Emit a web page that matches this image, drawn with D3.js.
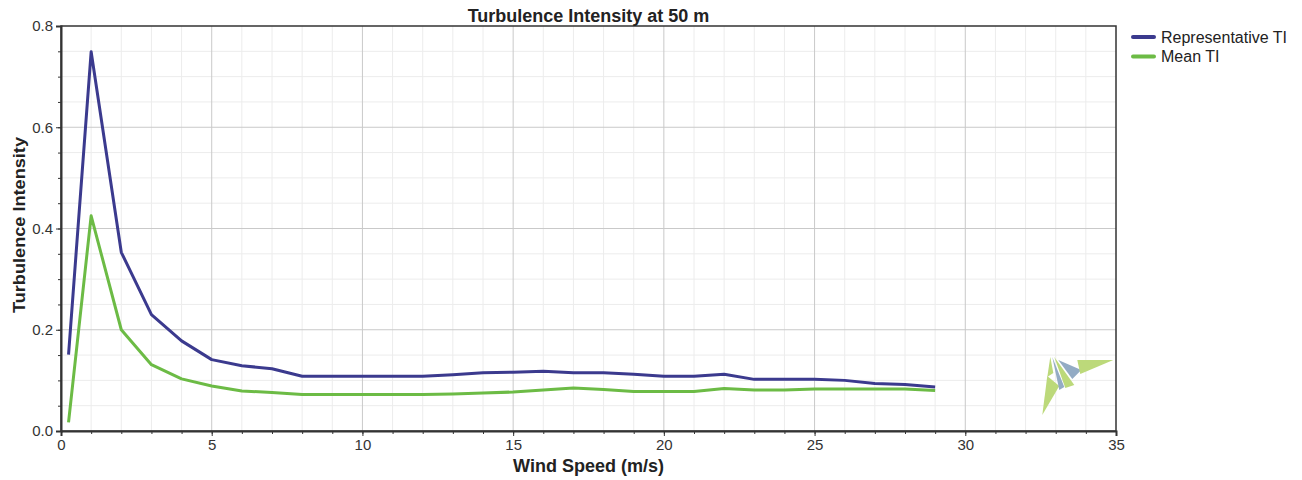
<!DOCTYPE html>
<html>
<head>
<meta charset="utf-8">
<script src="https://cdn.jsdelivr.net/npm/d3@7"></script>
<style>
  body { margin: 0; background: #fff; }
  text { font-family: "Liberation Sans", Arial, sans-serif; }
</style>
</head>
<body>
<div id="chart"></div>
<script>
// wind speed bins (m/s)
const windSpeed = [0.25, 1, 2, 3, 4, 5, 6, 7, 8, 9, 10, 11, 12, 13, 14, 15, 16, 17, 18, 19, 20, 21, 22, 23, 24, 25, 26, 27, 28, 29];
// representative TI
const repTI = [0.151, 0.749, 0.353, 0.230, 0.178, 0.141, 0.129, 0.123, 0.108, 0.108, 0.108, 0.108, 0.108, 0.111, 0.115, 0.116, 0.118, 0.115, 0.115, 0.112, 0.108, 0.108, 0.112, 0.102, 0.102, 0.102, 0.100, 0.094, 0.092, 0.087];
// mean TI
const meanTI = [0.017, 0.425, 0.200, 0.131, 0.103, 0.089, 0.079, 0.076, 0.072, 0.072, 0.072, 0.072, 0.072, 0.073, 0.075, 0.077, 0.081, 0.085, 0.082, 0.078, 0.078, 0.078, 0.084, 0.081, 0.081, 0.083, 0.083, 0.083, 0.083, 0.080];

const seriesNames = ["Representative TI", "Mean TI"];
const seriesColors = ["#3b3a8e", "#6cbb45"];
const xTicks = [0, 5, 10, 15, 20, 25, 30, 35];
const yTicks = [0.0, 0.2, 0.4, 0.6, 0.8];

function TIChart(parentElement) {
    let vis = this;
    vis.parentElement = parentElement;
    vis.initVis();
}

TIChart.prototype.initVis = function() {
    let vis = this;

    vis.margin = {top: 26, right: 186, bottom: 49, left: 61};
    vis.width = 1302 - vis.margin.left - vis.margin.right;
    vis.height = 480 - vis.margin.top - vis.margin.bottom;

    vis.root = d3.select("#" + vis.parentElement).append("svg")
        .attr("width", 1302)
        .attr("height", 480);

    vis.svg = vis.root.append("g")
        .attr("transform", "translate(" + vis.margin.left + ", " + vis.margin.top + ")");

    vis.x = d3.scaleLinear().domain([0, 35]).range([0, vis.width]);
    vis.y = d3.scaleLinear().domain([0, 0.8]).range([vis.height, 0]);

    // minor grid
    vis.svg.append("g").selectAll("line")
        .data(d3.range(1, 35).filter(d => d % 5 !== 0))
        .join("line")
        .attr("x1", d => vis.x(d)).attr("x2", d => vis.x(d))
        .attr("y1", 0).attr("y2", vis.height)
        .attr("stroke", "#ececec");
    vis.svg.append("g").selectAll("line")
        .data(d3.range(1, 16).map(d => d * 0.05).filter((d, i) => (i + 1) % 4 !== 0))
        .join("line")
        .attr("y1", d => vis.y(d)).attr("y2", d => vis.y(d))
        .attr("x1", 0).attr("x2", vis.width)
        .attr("stroke", "#ececec");

    // major grid
    vis.svg.append("g").selectAll("line")
        .data(xTicks.slice(1, -1))
        .join("line")
        .attr("x1", d => vis.x(d)).attr("x2", d => vis.x(d))
        .attr("y1", 0).attr("y2", vis.height)
        .attr("stroke", "#c9c9c9");
    vis.svg.append("g").selectAll("line")
        .data(yTicks.slice(1, -1))
        .join("line")
        .attr("y1", d => vis.y(d)).attr("y2", d => vis.y(d))
        .attr("x1", 0).attr("x2", vis.width)
        .attr("stroke", "#c9c9c9");

    // logo (decoration in the corner of the plot)
    let logo = vis.svg.append("g")
        .attr("transform", "translate(" + (vis.x(32.82)) + "," + (vis.y(0.146)) + ")");
    let green = "#bcd97a", grey = "#93abc4";
    logo.append("polygon").attr("points", "0,0 3,16 -3,20").attr("fill", green);
    logo.append("polygon").attr("points", "-3,19 9,29 -8,58").attr("fill", green);
    logo.append("polygon").attr("points", "2,0 14,30 9,33").attr("fill", grey);
    logo.append("polygon").attr("points", "4,0 24,28 15,31").attr("fill", green);
    logo.append("polygon").attr("points", "8,3 31,13 22,22").attr("fill", grey);
    logo.append("polygon").attr("points", "27,3 63,3 30,17").attr("fill", green);

    // frame
    vis.svg.append("rect")
        .attr("width", vis.width).attr("height", vis.height)
        .attr("fill", "none").attr("stroke", "#333").attr("stroke-width", 1.5);

    // axes
    vis.xAxis = vis.svg.append("g")
        .attr("transform", "translate(0," + vis.height + ")")
        .call(d3.axisBottom(vis.x).tickValues(xTicks).tickFormat(d3.format("d")).tickSize(5).tickPadding(3));
    vis.svg.append("g")
        .attr("transform", "translate(0," + vis.height + ")")
        .call(d3.axisBottom(vis.x).tickValues(d3.range(0, 36)).tickFormat("").tickSize(3))
        .call(g => g.select(".domain").remove());
    vis.yAxis = vis.svg.append("g")
        .call(d3.axisLeft(vis.y).tickValues(yTicks).tickFormat(d3.format(".1f")).tickSize(5).tickPadding(3));
    vis.svg.append("g")
        .call(d3.axisLeft(vis.y).tickValues(d3.range(0, 17).map(d => d * 0.05)).tickFormat("").tickSize(3))
        .call(g => g.select(".domain").remove());

    vis.svg.selectAll(".domain").attr("stroke", "#333").attr("stroke-width", 2);
    vis.svg.selectAll(".tick line").attr("stroke", "#333");
    vis.svg.selectAll(".tick text")
        .attr("font-size", 15)
        .attr("fill", "#333")
        .attr("font-family", "'Liberation Sans', Arial, sans-serif");

    // titles
    vis.root.append("text")
        .attr("x", vis.margin.left + vis.width / 2).attr("y", 22)
        .attr("text-anchor", "middle")
        .attr("font-size", 18).attr("font-weight", "bold").attr("fill", "#222")
        .text("Turbulence Intensity at 50 m");
    vis.root.append("text")
        .attr("x", vis.margin.left + vis.width / 2).attr("y", 472)
        .attr("text-anchor", "middle")
        .attr("font-size", 18).attr("font-weight", "bold").attr("fill", "#222")
        .text("Wind Speed (m/s)");
    vis.root.append("text")
        .attr("transform", "translate(25,225) rotate(-90)")
        .attr("text-anchor", "middle")
        .attr("font-size", 17).attr("font-weight", "bold").attr("fill", "#222")
        .attr("textLength", 176).attr("lengthAdjust", "spacingAndGlyphs")
        .text("Turbulence Intensity");

    vis.line = d3.line()
        .x((d, i) => vis.x(windSpeed[i]))
        .y(d => vis.y(d));
}

TIChart.prototype.updateVis = function() {
    let vis = this;
    let data = [repTI, meanTI];

    // green first so blue sits on top
    vis.svg.selectAll(".tiLine")
        .data(data.slice().reverse())
        .join("path")
        .attr("class", "tiLine")
        .attr("fill", "none")
        .attr("stroke", (d, i) => seriesColors[1 - i])
        .attr("stroke-width", 3)
        .attr("stroke-linejoin", "round")
        .attr("d", vis.line);

    // legend
    let leg = vis.root.append("g")
        .attr("transform", "translate(1133, 37)");
    let items = leg.selectAll("g")
        .data(seriesNames)
        .join("g")
        .attr("transform", (d, i) => "translate(0," + i * 19.5 + ")");
    items.append("line")
        .attr("x1", 0).attr("x2", 21)
        .attr("stroke", (d, i) => seriesColors[i])
        .attr("stroke-width", 4)
        .attr("stroke-linecap", "round");
    items.append("text")
        .attr("x", 28).attr("y", 5.5)
        .attr("font-size", 16).attr("fill", "#222")
        .text(d => d);
}

let chart = new TIChart("chart");
chart.updateVis();
</script>
</body>
</html>
